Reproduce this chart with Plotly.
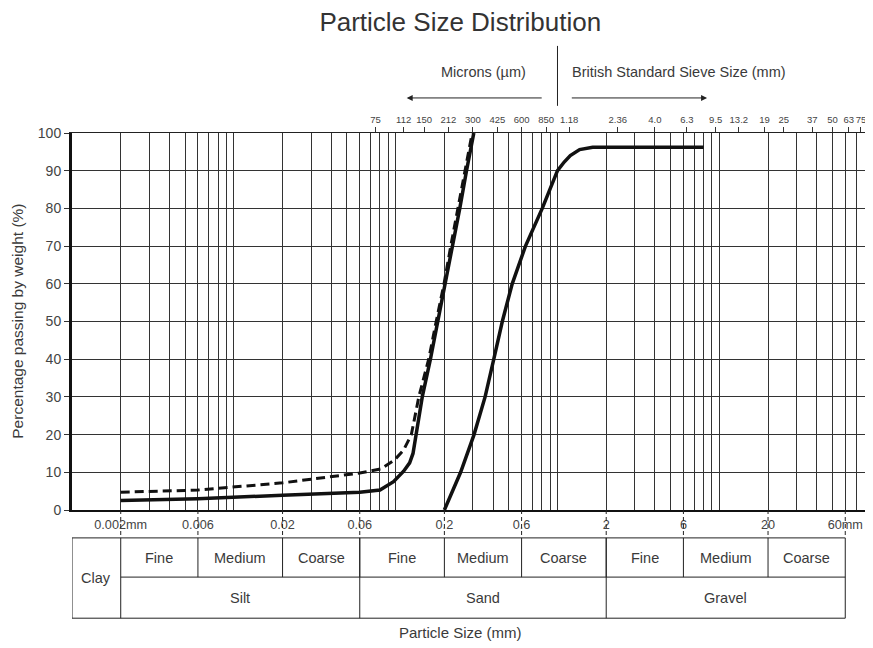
import math
import plotly.graph_objects as go

# ---------------- data ----------------
fine_solid_mm = [0.002, 0.006, 0.02, 0.06, 0.08, 0.097, 0.112, 0.122, 0.128, 0.146, 0.164,
                 0.182, 0.204, 0.224, 0.249, 0.274, 0.304]
fine_solid_pct = [2.5, 3.0, 3.9, 4.7, 5.3, 7.5, 10.3, 12.5, 15.0, 30, 40, 50, 60, 70, 80, 90, 100]

fine_dashed_mm = [0.002, 0.006, 0.02, 0.06, 0.081, 0.098, 0.112, 0.125, 0.139, 0.16, 0.178,
                  0.199, 0.219, 0.243, 0.267, 0.297]
fine_dashed_pct = [4.7, 5.3, 7.2, 9.8, 10.9, 13.2, 15.9, 20, 30, 40, 50, 60, 70, 80, 90, 100]

coarse_mm = [0.2, 0.252, 0.305, 0.357, 0.404, 0.456, 0.525, 0.634, 0.805, 1.0, 1.1, 1.2,
             1.37, 1.65, 8.0]
coarse_pct = [0, 10, 20, 30, 40, 50, 60, 70, 80, 90, 92.3, 94.0, 95.6, 96.2, 96.2]

bottom_tick_mm = [0.002, 0.006, 0.02, 0.06, 0.2, 0.6, 2, 6, 20, 60]
bottom_tick_text = ["0.002mm", "0.006", "0.02", "0.06", "0.2", "0.6", "2", "6", "20", "60mm"]

sieve_mm = [0.075, 0.112, 0.15, 0.212, 0.3, 0.425, 0.6, 0.85, 1.18, 2.36, 4.0, 6.3, 9.5,
            13.2, 19, 25, 37.5, 50, 63, 75]
sieve_text = ["75", "112", "150", "212", "300", "425", "600", "850", "1.18", "2.36", "4.0",
              "6.3", "9.5", "13.2", "19", "25", "37", "50", "63", "75"]

y_ticks = [0, 10, 20, 30, 40, 50, 60, 70, 80, 90, 100]

sub_bounds = [0.002, 0.006, 0.02, 0.06, 0.2, 0.6, 2, 6, 20, 60]
sub_labels = ["Fine", "Medium", "Coarse", "Fine", "Medium", "Coarse", "Fine", "Medium", "Coarse"]
main_bounds = [0.002, 0.06, 2, 60]
main_labels = ["Silt", "Sand", "Gravel"]
clay_bounds = [0.001, 0.002]

# header positions (mm on the size axis)
microns_center_mm = 0.35
sieve_text_left_mm = 1.2
left_arrow_mm = (0.816, 0.117)   # tail, head
right_arrow_mm = (1.2, 8.4)      # tail, head
divider_mm = 1.0

# ---------------- geometry ----------------
# the page body adds an 8px offset, so the figure is 8px smaller than the window
W, H = 865, 640
X_MIN, X_MAX = 0.001, 80.6
TABLE_TOP, TABLE_MID, TABLE_BOT = -0.074, -0.178, -0.287
INK = "#222"
TXT = "#3a3a3a"
FONT = "Liberation Sans, Arial, sans-serif"

grid_mm = [round(m * 10.0 ** e, 6) for e in range(-3, 2) for m in range(1, 10)]
grid_mm = [g for g in grid_mm if g <= X_MAX]
label_map = dict(zip(bottom_tick_mm, bottom_tick_text))
grid_text = [label_map.get(g, "") for g in grid_mm]

fig = go.Figure()
fig.add_trace(go.Scatter(x=fine_dashed_mm, y=fine_dashed_pct, mode="lines",
                         line=dict(color="#111", width=3, dash="9px,5px"), showlegend=False))
fig.add_trace(go.Scatter(x=fine_solid_mm, y=fine_solid_pct, mode="lines",
                         line=dict(color="#111", width=3.5), showlegend=False))
fig.add_trace(go.Scatter(x=coarse_mm, y=coarse_pct, mode="lines",
                         line=dict(color="#111", width=3.5), showlegend=False))
# carrier for the top sieve axis
fig.add_trace(go.Scatter(x=sieve_mm, y=[None] * len(sieve_mm), xaxis="x2", mode="markers",
                         marker=dict(opacity=0), showlegend=False, hoverinfo="skip"))

shapes = []
for b in bottom_tick_mm:
    shapes.append(dict(type="line", xref="x", yref="paper", x0=b, x1=b, y0=0, y1=TABLE_TOP,
                       line=dict(color=INK, width=1, dash="4px,3px")))
shapes.append(dict(type="rect", xref="x", yref="paper", x0=clay_bounds[0], x1=main_bounds[-1],
                   y0=TABLE_BOT, y1=TABLE_TOP, line=dict(color=INK, width=1)))
shapes.append(dict(type="line", xref="x", yref="paper", x0=main_bounds[0], x1=main_bounds[-1],
                   y0=TABLE_MID, y1=TABLE_MID, line=dict(color=INK, width=1)))
for b in sub_bounds[1:-1]:
    shapes.append(dict(type="line", xref="x", yref="paper", x0=b, x1=b, y0=TABLE_MID,
                       y1=TABLE_TOP, line=dict(color=INK, width=1)))
for b in main_bounds[:-1]:
    shapes.append(dict(type="line", xref="x", yref="paper", x0=b, x1=b, y0=TABLE_BOT,
                       y1=TABLE_TOP, line=dict(color=INK, width=1)))
shapes.append(dict(type="line", xref="x", yref="paper", x0=divider_mm, x1=divider_mm,
                   y0=1.072, y1=1.231, line=dict(color=INK, width=1)))

TBL = dict(size=14.5, color=TXT, family=FONT)
annotations = []
for i, lab in enumerate(sub_labels):
    xc = (math.log10(sub_bounds[i]) + math.log10(sub_bounds[i + 1])) / 2
    annotations.append(dict(x=xc, y=(TABLE_TOP + TABLE_MID) / 2, xref="x", yref="paper",
                            xanchor="center", yanchor="middle",
                            text=lab, showarrow=False, font=TBL))
for i, lab in enumerate(main_labels):
    xc = (math.log10(main_bounds[i]) + math.log10(main_bounds[i + 1])) / 2
    annotations.append(dict(x=xc, y=(TABLE_MID + TABLE_BOT) / 2, xref="x", yref="paper",
                            xanchor="center", yanchor="middle",
                            text=lab, showarrow=False, font=TBL))
annotations.append(dict(x=(math.log10(clay_bounds[0]) + math.log10(clay_bounds[1])) / 2,
                        y=(TABLE_TOP + TABLE_BOT) / 2, xref="x", yref="paper", text="Clay",
                        xanchor="center", yanchor="middle", showarrow=False, font=TBL))
annotations.append(dict(x=0.489, y=-0.326, xref="paper", yref="paper", xanchor="center",
                        yanchor="middle", text="Particle Size (mm)", showarrow=False,
                        font=dict(size=15, color=TXT, family=FONT)))
annotations.append(dict(x=-0.069, y=0.5, xref="paper", yref="paper", xanchor="center",
                        yanchor="middle", textangle=-90,
                        text="Percentage passing by weight (%)", showarrow=False,
                        font=dict(size=15.5, color=TXT, family=FONT)))
annotations.append(dict(x=math.log10(microns_center_mm), y=1.162, xref="x", yref="paper",
                        xanchor="center", yanchor="middle", text="Microns (µm)",
                        showarrow=False, font=dict(size=14.5, color=TXT, family=FONT)))
annotations.append(dict(x=math.log10(sieve_text_left_mm), y=1.162, xref="x", yref="paper",
                        xanchor="left", yanchor="middle",
                        text="British Standard Sieve Size (mm)", showarrow=False,
                        font=dict(size=14.5, color=TXT, family=FONT)))
for tail, head in (left_arrow_mm, right_arrow_mm):
    annotations.append(dict(x=math.log10(head), y=1.093, xref="x", yref="paper", text="",
                            showarrow=True, axref="x", ax=math.log10(tail), ayref="pixel", ay=0,
                            arrowhead=2, arrowsize=1.2, arrowwidth=1, arrowcolor=INK))

xr = [math.log10(X_MIN), math.log10(X_MAX)]
fig.update_layout(
    width=W, height=H,
    margin=dict(l=64, r=7, t=125, b=138, autoexpand=False),
    paper_bgcolor="white", plot_bgcolor="white",
    font=dict(family=FONT, color=TXT),
    title=dict(text="Particle Size Distribution", x=0.489, xref="paper", xanchor="center",
               y=1 - 14 / H, yanchor="middle", automargin=False,
               font=dict(size=26, color="#333", family=FONT)),
    xaxis=dict(type="log", range=xr, tickvals=grid_mm, ticktext=grid_text, tickangle=0,
               ticks="", showgrid=True, gridcolor="#333", gridwidth=1, automargin=False,
               showline=True, linecolor="#111", linewidth=2, zeroline=False,
               ticklabelstandoff=2, tickfont=dict(size=12.7, color="#444")),
    xaxis2=dict(type="log", range=xr, overlaying="x", side="top", anchor="y",
                tickvals=sieve_mm, ticktext=sieve_text, tickangle=0, ticks="outside",
                ticklen=5, tickcolor="#333", showgrid=False, showline=True, automargin=False,
                linecolor="#222", linewidth=1, tickfont=dict(size=9.5, color="#444")),
    yaxis=dict(range=[0, 100], tickvals=y_ticks, ticks="outside", ticklen=5, tickcolor="#333",
               showgrid=True, gridcolor="#333", gridwidth=1, zeroline=False, automargin=False,
               showline=True, linecolor="#111", linewidth=3,
               tickfont=dict(size=14, color="#444")),
    shapes=shapes,
    annotations=annotations,
    showlegend=False,
)

fig.write_html("out.html")
